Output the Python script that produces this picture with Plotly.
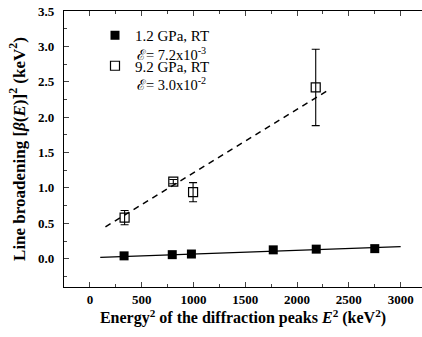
import plotly.graph_objects as go

# 1.2 GPa, RT (filled squares)
x_lp = [330, 795, 980, 1770, 2185, 2750]
y_lp = [0.040, 0.057, 0.066, 0.125, 0.135, 0.142]
fit_lp_x = [100, 3000]
fit_lp_y = [0.02, 0.17]

# 9.2 GPa, RT (open squares)
x_hp = [335, 805, 996, 2180]
y_hp = [0.58, 1.09, 0.94, 2.42]
err_hp = [0.10, 0.03, 0.135, 0.54]
fit_hp_x = [150, 2300]
fit_hp_y = [0.45, 2.38]

x_ticks = [0, 500, 1000, 1500, 2000, 2500, 3000]
y_ticks = [0.0, 0.5, 1.0, 1.5, 2.0, 2.5, 3.0, 3.5]

labels = ["1.2 GPa, RT", "9.2 GPa, RT"]
strain_labels = ["ℰ= 7.2x10<sup>-3</sup>", "ℰ= 3.0x10<sup>-2</sup>"]

FONT = "Liberation Serif, Times New Roman, serif"

fig = go.Figure()
fig.add_trace(go.Scatter(x=fit_lp_x, y=fit_lp_y, mode="lines",
                         line=dict(color="black", width=1.3), showlegend=False))
fig.add_trace(go.Scatter(x=fit_hp_x, y=fit_hp_y, mode="lines",
                         line=dict(color="black", width=1.5, dash="6px,5px"), showlegend=False))
fig.add_trace(go.Scatter(x=x_lp, y=y_lp, mode="markers", legendgroup="a",
                         marker=dict(symbol="square", size=9, color="black"),
                         name=labels[0]))
fig.add_trace(go.Scatter(x=x_hp, y=y_hp, mode="markers", legendgroup="b",
                         marker=dict(symbol="square-open", size=9, color="black",
                                     line=dict(width=1.2)),
                         error_y=dict(type="data", array=err_hp, color="black",
                                      thickness=1.1, width=4),
                         name=labels[1]))

# strain annotations under each legend entry (paper coords of plot area)
plot_l, plot_r, plot_t, plot_b = 64, 422, 11, 286.7
def px(xp):
    return (xp - plot_l) / (plot_r - plot_l)
def py(yp):
    return 1 - (yp - plot_t) / (plot_b - plot_t)

for lbl, ypix in zip(strain_labels, [54, 84]):
    fig.add_annotation(x=px(135), y=py(ypix), xref="paper", yref="paper",
                       xanchor="left", yanchor="middle", showarrow=False,
                       text=lbl, font=dict(family=FONT, size=14.5, color="black"))

fig.update_layout(
    width=422, height=337,
    margin=dict(l=64, r=0, t=11, b=50),
    paper_bgcolor="white", plot_bgcolor="white",
    font=dict(family=FONT, color="black", size=15),
    legend=dict(x=px(95), y=py(19), xanchor="left", yanchor="top",
                bgcolor="rgba(0,0,0,0)", font=dict(size=15, family=FONT),
                tracegroupgap=8, itemwidth=30),
    xaxis=dict(range=[-250, 3206], tickvals=x_ticks, ticks="inside", ticklen=5,
               tickwidth=1, showline=True, linecolor="black", linewidth=1.3,
               mirror="ticks", showgrid=False, zeroline=False,
               minor=dict(ticks="inside", ticklen=3, dtick=250, tick0=0, showgrid=False),
               tickfont=dict(family=FONT, size=13, weight="bold"),
               title=dict(text="<b>Energy<sup>2</sup> of the diffraction peaks <i>E</i><sup>2</sup> (keV<sup>2</sup>)</b>",
                          font=dict(family=FONT, size=16), standoff=6)),
    yaxis=dict(range=[-0.4, 3.5], tickvals=y_ticks, tickformat=".1f", ticks="inside",
               ticklen=5, tickwidth=1, showline=True, linecolor="black", linewidth=1.3,
               mirror=False, showgrid=False, zeroline=False,
               minor=dict(ticks="inside", ticklen=3, dtick=0.25, tick0=0, showgrid=False),
               tickfont=dict(family=FONT, size=13, weight="bold"), ticklabelstandoff=6,
               title=dict(text="<b>Line broadening [<i>β</i>(<i>E</i>)]<sup>2</sup> (keV<sup>2</sup>)</b>",
                          font=dict(family=FONT, size=17), standoff=8)),
)

fig.write_html("out.html")
